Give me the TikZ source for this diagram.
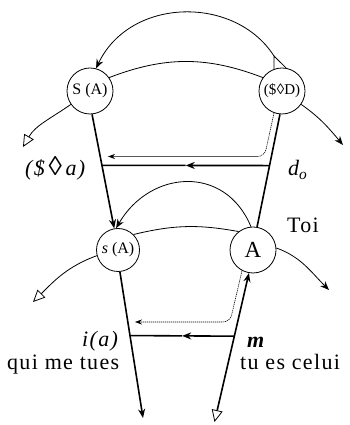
\documentclass[tikz,border=0pt]{standalone}
\usepackage{fontspec}
\setmainfont{Liberation Serif}
\newfontfamily\lblfont[LetterSpace=6]{Liberation Serif}
\usetikzlibrary{arrows.meta,calc}
\begin{document}
\begin{tikzpicture}[x=1pt,y=1pt,
  vtx/.style={draw, circle, line width=0.8pt, inner sep=0pt, minimum size=46pt},
  vec/.style={line width=1.6pt},
  arcline/.style={line width=0.8pt},
  dotvec/.style={line width=0.6pt, dash pattern=on 1.2pt off 0.8pt},
  lbl/.style={font=\lblfont\fontsize{22}{26}\selectfont, inner sep=0pt},
  tip/.tip={Stealth[length=9pt,width=7pt]},
  smalltip/.tip={Stealth[length=7pt,width=5pt]},
  tri/.tip={Triangle[open,length=12pt,width=11pt,line width=0.8pt]},
]
\useasboundingbox (0,0) rectangle (350,425);

% vertices
\node[vtx] (SA) at (90,334) {\fontsize{16}{18}\selectfont S (A)};
\node[vtx] (SD) at (282,334) {\fontsize{15}{18}\selectfont(\$\kern0.5pt◊D)};
\node[vtx, minimum size=43pt] (sA) at (118,175) {\fontsize{16}{18}\selectfont\textit{s} (A)};
\node[vtx] (A) at (253,175) {\fontsize{23}{26}\selectfont A};

% free ends
\coordinate (bot) at (143,7);
\coordinate (tb) at (214.5,3);
\coordinate (t1) at (23,278);
\coordinate (r1) at (343,280);
\coordinate (t3) at (33,123);
\coordinate (r2) at (329,135);
\coordinate (apx) at ($(SD.110)+(0,13)$);

% main vectors
\draw[vec, -tip] (SA.-85) -- (sA.100);
\draw[vec, -tip] (sA.-85) -- (bot);
\draw[vec, tri-tip] (tb) -- (A.-100);
\draw[vec] (A.80) -- (SD.-95);

% horizontal vectors
\coordinate (L1) at ($(SA.-85)!0.447!(sA.100)$);
\coordinate (R1) at ($(A.80)!0.545!(SD.-95)$);
\coordinate (M1) at ($(L1)!0.5!(R1)$);
\draw[vec, -tip] (R1) -- (M1);
\draw[vec] (M1) -- (L1);
\coordinate (L2) at ($(sA.-85)!0.436!(bot)$);
\coordinate (R2) at ($(tb)!0.576!(A.-100)$);
\coordinate (M2) at ($(L2)!0.5!(R2)$);
\draw[vec, -tip] (R2) -- (M2);
\draw[vec] (M2) -- (L2);

% dotted vectors
\coordinate (c1) at (264.5,268.5);
\coordinate (e1) at (108,268.5);
\draw[dotvec, rounded corners=7pt, -smalltip] (SD.-110) -- (c1) -- (e1);
\coordinate (c2) at (230,103);
\coordinate (e2) at (135,103);
\draw[dotvec, rounded corners=7pt, -smalltip] (A.-118) -- (c2) -- (e2);

% arcs
\draw[arcline] (SD.110) -- (apx) -- (SD.80);
\draw[arcline, -tip] (apx) .. controls (235,430) and (130,428) .. (SA.75);
\draw[arcline] (SA.35) to[bend left=21] (SD.145);
\draw[arcline, tri-] (t1) to[out=60,in=215] (SA.215);
\draw[arcline, -tip] (SD.-35) to[out=-35,in=130] (r1);
\draw[arcline, -tip] (A.95) .. controls (225,261) and (150,255) .. (sA.95);
\draw[arcline] (sA.45) to[bend left=12] (A.128);
\draw[arcline, tri-] (t3) to[out=45,in=200] (sA.195);
\draw[arcline, -tip] (A.5) to[out=-20,in=135] (r2);

% labels
\node[lbl, anchor=base west] (la) at (25,249) {\itshape(\$\,{\upshape\fontsize{27}{26}\selectfont◊}\,a)};
\node[lbl, anchor=base west] (ldo) at (288,249) {\itshape d\textsubscript{o}};
\node[lbl, anchor=base west] (ltoi) at (287,192) {Toi};
\node[lbl, anchor=base west] (lia) at (82,78) {\itshape i(a)};
\node[lbl, anchor=base west] (lm) at (247,77) {\bfseries\itshape m};
\node[lbl, anchor=base west] (lq) at (7,55) {qui me tues};
\node[lbl, anchor=base west] (lt) at (240,55) {tu es celui};
\end{tikzpicture}
\end{document}
